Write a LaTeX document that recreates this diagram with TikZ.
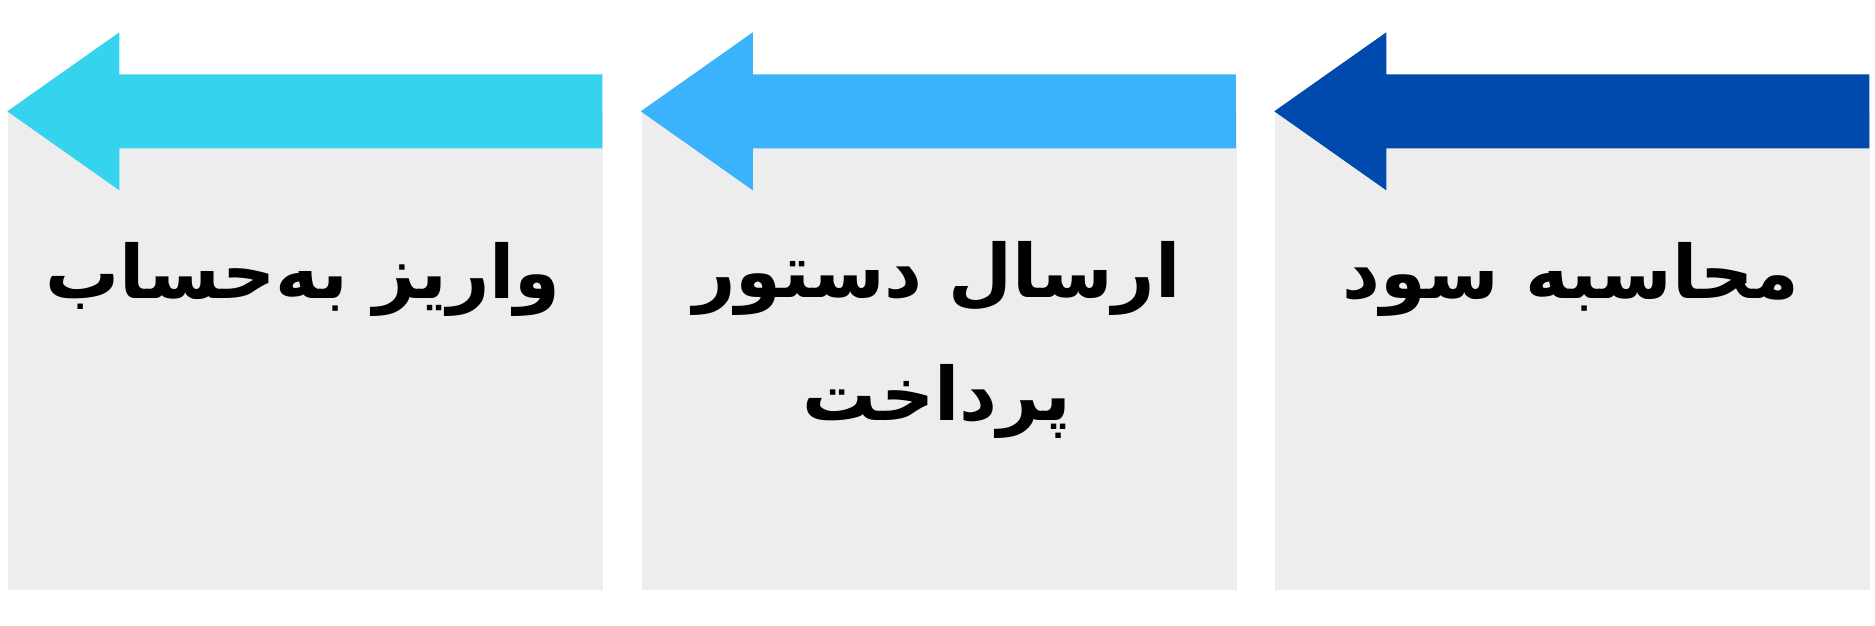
\documentclass[tikz,border=0pt]{standalone}
\usepackage{fontspec}
\newfontfamily\arabicfont[Script=Arabic]{DejaVu Sans}
\TeXXeTstate=1
\definecolor{arA}{HTML}{36D3EE}
\definecolor{arB}{HTML}{3AB3FC}
\definecolor{arC}{HTML}{004AAD}
\definecolor{boxgray}{HTML}{EDEDED}
\tikzset{bx/.style = {rectangle, fill=boxgray, minimum width=5.95cm, minimum height=4.78cm, inner sep=0pt},
         lb/.style = {anchor=base, inner sep=0pt, font={\arabicfont\bfseries\fontsize{21}{35}\selectfont\lineskiplimit-60pt}}}

\begin{document}
\begin{tikzpicture}
    \useasboundingbox (0,0) rectangle (18.75,6.25);
    \node[bx] (b1) at (3.055,2.74) {}; \node[bx] (b2) at (9.39,2.74) {}; \node[bx] (b3) at (15.725,2.74) {};
    \fill[arA] (b1.north west) -- ++(1.12,0.79) -- ++(0,-0.42) -- ++(4.83,0) -- ++(0,-0.74) -- ++(-4.83,0) -- ++(0,-0.42) -- cycle;
    \fill[arB] (b2.north west) -- ++(1.12,0.79) -- ++(0,-0.42) -- ++(4.83,0) -- ++(0,-0.74) -- ++(-4.83,0) -- ++(0,-0.42) -- cycle;
    \fill[arC] (b3.north west) -- ++(1.12,0.79) -- ++(0,-0.42) -- ++(4.83,0) -- ++(0,-0.74) -- ++(-4.83,0) -- ++(0,-0.42) -- cycle;
    \node[lb] (t1) at (3.03,3.27) {\beginR واریز به^^^^200cحساب\endR};
    \node[lb, align=center] (t2) at (9.37,2.05) {\beginR ارسال دستور\endR\\\beginR پرداخت\endR};
    \node[lb] (t3) at (15.71,3.27) {\beginR محاسبه سود\endR};
\end{tikzpicture}
\end{document}
